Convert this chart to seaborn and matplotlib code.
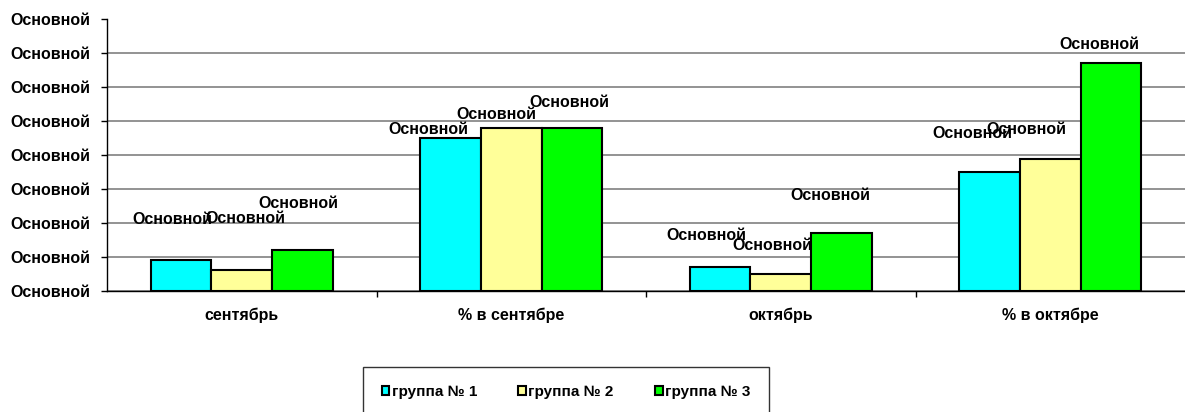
import matplotlib
matplotlib.use('Agg')
import matplotlib.pyplot as plt
import pandas as pd
import seaborn as sns
from matplotlib.ticker import FixedLocator

categories = ['сентябрь', '% в сентябре', 'октябрь', '% в октябре']
groups = ['группа № 1', 'группа № 2', 'группа № 3']
group1 = [9.1, 44.9, 7.0, 35.0]
group2 = [6.2, 47.8, 5.0, 38.9]
group3 = [12.1, 47.8, 17.1, 67.1]
y_ticks = [0, 10, 20, 30, 40, 50, 60, 70, 80]
tick_text = 'Основной'  # формат "Основной" вместо чисел, как в оригинале

colors = ['#00FFFF', '#FFFF99', '#00FF00']

# сдвиг подписей относительно верха столбца (px), подписи двигали вручную
label_dx = [[-9, -22, -14, -17], [4, -15, -8, -24], [-4, -3, -11, -12]]
label_dy = [[41, 9, 32, 39], [51, 14, 29, 29], [46, 26, 37, 18]]

df = pd.DataFrame({
    'category': categories * 3,
    'group': [g for g in groups for _ in categories],
    'value': group1 + group2 + group3,
})

sns.set_style('white')
plt.rcParams['font.family'] = ['Liberation Sans', 'DejaVu Sans']
plt.rcParams['font.weight'] = 'bold'
plt.rcParams['text.color'] = 'black'
plt.rcParams['xtick.color'] = 'black'
plt.rcParams['ytick.color'] = 'black'

fig = plt.figure(figsize=(11.85, 4.12), dpi=100)
ax = fig.add_axes([107 / 1185, 1 - 291 / 412, 1 - 107 / 1185, 272 / 412])

sns.barplot(
    data=df, x='category', y='value', hue='group', order=categories,
    hue_order=groups, palette=colors, width=0.675, gap=0,
    edgecolor='black', linewidth=1.5, saturation=1, ax=ax, legend=True,
)

for i, bars in enumerate(ax.containers):
    for j, bar in enumerate(bars):
        ax.annotate(
            tick_text,
            (bar.get_x() + bar.get_width() / 2, bar.get_height()),
            xytext=(label_dx[i][j] * 0.72, label_dy[i][j] * 0.72),
            textcoords='offset points', ha='center', va='center',
            fontsize=11.5, fontweight='bold', color='black',
        )

ax.set_ylim(0, 80)
ax.set_xlim(-0.5, 3.5)
ax.set_yticks(y_ticks)
ax.set_yticklabels([tick_text] * len(y_ticks), fontsize=11.5, fontweight='bold')
ax.tick_params(axis='y', length=4, width=1, color='black', labelcolor='black',
               pad=8, direction='out', left=True)
ax.tick_params(axis='x', which='major', length=0, pad=12, labelsize=11.5, labelcolor='black')
ax.xaxis.set_minor_locator(FixedLocator([0.5, 1.5, 2.5]))
ax.tick_params(axis='x', which='minor', length=4, width=1, color='black', direction='out', bottom=True)
for lab in ax.get_xticklabels():
    lab.set_fontweight('bold')
ax.set_xlabel('')
ax.set_ylabel('')

ax.yaxis.grid(True, color='#808080', linewidth=1.2)
ax.yaxis.get_gridlines()[-1].set_visible(False)
ax.set_axisbelow(True)
for side in ['top', 'right']:
    ax.spines[side].set_visible(False)
for side in ['left', 'bottom']:
    ax.spines[side].set_color('black')
    ax.spines[side].set_linewidth(1)

handles, labels = ax.get_legend_handles_labels()
ax.get_legend().remove()
leg = fig.legend(
    handles, labels, loc='center', bbox_to_anchor=(566 / 1185, 1 - 392 / 412),
    ncol=3, frameon=True, fancybox=False, edgecolor='black',
    handlelength=0.5, handleheight=0.5, handletextpad=0.15, columnspacing=2.7,
    borderpad=1.2, prop={'weight': 'bold', 'size': 11},
)
leg.get_frame().set_linewidth(1)
for t in leg.get_texts():
    t.set_color('black')

fig.savefig('out.png', dpi=100)
